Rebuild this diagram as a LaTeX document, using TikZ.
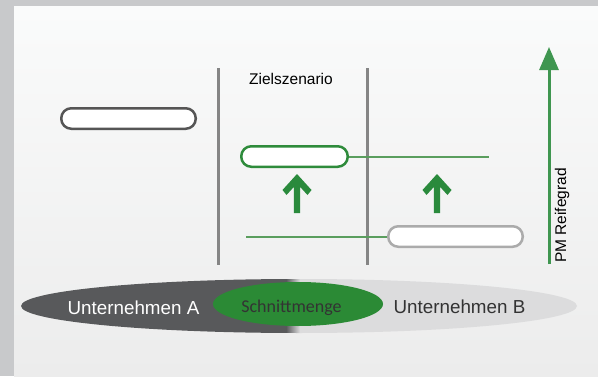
\documentclass[tikz,border=0pt]{standalone}
\usepackage{fontspec}
\setmainfont{Liberation Sans}
\newfontfamily\calfont{Carlito}
\usetikzlibrary{shapes.geometric,arrows.meta}
\definecolor{frame}{HTML}{C8C9CB}
\definecolor{paneltop}{HTML}{FAFBFB}
\definecolor{panelbot}{HTML}{ECECEC}
\definecolor{vgray}{HTML}{858585}
\definecolor{boxdark}{HTML}{555555}
\definecolor{boxlight}{HTML}{ABABAB}
\definecolor{boxgreen}{HTML}{2E8B3B}
\definecolor{linegreen}{HTML}{5A9E5E}
\definecolor{arrowgreen}{HTML}{2A8A3C}
\definecolor{ellA}{HTML}{58595B}
\definecolor{ellB}{HTML}{DCDCDD}
\definecolor{ellG}{HTML}{2B8A35}
\definecolor{txtdark}{HTML}{333333}
\tikzset{
  pill/.style={draw, fill=white, line width=2.5pt, rounded corners=10pt,
    minimum width=134.5pt, minimum height=20.5pt, inner sep=0pt},
  vline/.style={draw=vgray, line width=3pt},
  conn/.style={draw=linegreen, line width=2pt},
  bigtxt/.style={font=\fontsize{18.8}{19}\selectfont, inner sep=0pt, anchor=base},
  smalltxt/.style={font=\fontsize{15.5}{16}\selectfont, inner sep=0pt, anchor=base, text=black},
  uparrow/.pic={\fill[arrowgreen] (0,0) -- (14.5,-16) -- (10.5,-21) -- (3.2,-13) -- (3.2,-39)
     -- (-3.2,-39) -- (-3.2,-13) -- (-10.5,-21) -- (-14.5,-16) -- cycle;}
}
\begin{document}
\begin{tikzpicture}[x=1pt,y=1pt]
\useasboundingbox (0,0) rectangle (598,376);
\fill[frame] (0,0) rectangle (598,376);
\shade[top color=paneltop,bottom color=panelbot] (14,0) rectangle (598,369);

% vertical separators
\coordinate (v1t) at (218.5,308);
\coordinate (v1b) at (218.5,111);
\coordinate (v2t) at (367,308);
\coordinate (v2b) at (367,111);
\draw[vline] (v1t) -- (v1b);
\draw[vline] (v2t) -- (v2b);

\node[smalltxt] (ziel) at (291,292) {Zielszenario};

% boxes
\node[pill, draw=boxdark] (leftbox) at (128.5,257.5) {};
\node[pill, draw=boxgreen, minimum width=106.5pt] (greenbox) at (294.5,219.5) {};
\node[pill, draw=boxlight] (lowbox) at (455.5,139.5) {};

\coordinate (g1end) at (489,219.5);
\coordinate (g2start) at (246,139.5);
\draw[conn] (greenbox.east) -- (g1end);
\draw[conn] (g2start) -- (lowbox.west);

% up arrows
\pic at (297,202) {uparrow};
\pic at (437,202) {uparrow};

% axis
\coordinate (axisbot) at (549,112);
\coordinate (axistop) at (549,329);
\draw[draw=arrowgreen!90!white, line width=3pt, -{Triangle[width=19pt,length=23pt]}] (axisbot) -- (axistop);
\node[smalltxt, rotate=90, anchor=base west] (pm) at (566,113) {PM Reifegrad};

% bottom ellipse
\begin{scope}
\clip (299,70) ellipse [x radius=278, y radius=27];
\fill[ellA] (20,40) rectangle (286,100);
\shade[left color=ellA,right color=ellB] (286,40) rectangle (300,100);
\fill[ellB] (300,40) rectangle (578,100);
\end{scope}
\node[ellipse, fill=ellG, minimum width=170pt, minimum height=44pt, inner sep=0pt] (schnitt) at (298,72) {};
\node[font=\calfont\fontsize{18}{18}\selectfont, text=txtdark, inner sep=0pt, anchor=base] (schnitttxt) at (291.5,64) {Schnittmenge};
\node[bigtxt, text=white] (ua) at (133.5,61.5) {Unternehmen A};
\node[bigtxt, text=txtdark] (ub) at (459.5,62.5) {Unternehmen B};
\end{tikzpicture}
\end{document}
